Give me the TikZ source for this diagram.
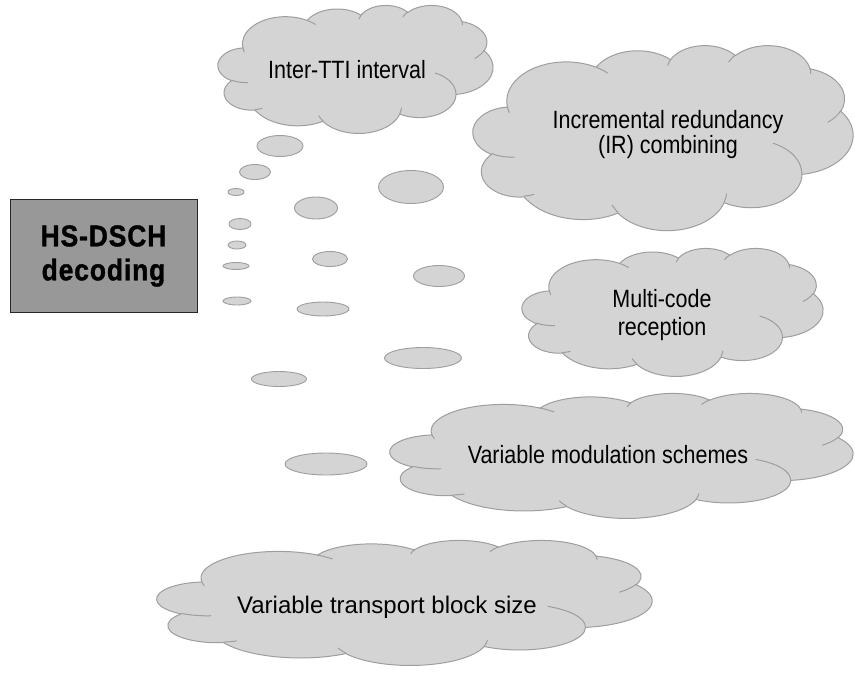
\documentclass[tikz,border=0pt]{standalone}
\usepackage{fontspec}
\setmainfont{Liberation Sans}
\newfontfamily\condfont[FakeStretch=0.86]{Liberation Sans}
\newfontfamily\headfont[FakeStretch=0.88,FakeBold=1.2,LetterSpace=3]{Liberation Sans Bold}
\usetikzlibrary{shapes.geometric}
\definecolor{cloudfill}{RGB}{212,212,212}
\definecolor{cloudline}{RGB}{158,158,158}
\definecolor{boxfill}{RGB}{152,152,152}
\tikzset{
  bubble/.style={ellipse, draw=cloudline, fill=cloudfill, line width=0.9pt, inner sep=0pt},
  thoughtfill/.style={draw=cloudline, fill=cloudfill, line width=1pt, line join=round},
  thoughtline/.style={draw=cloudline, line width=1pt, line cap=round},
  label/.style={inner sep=0pt, align=center, text=black},
  decoder/.style={draw=black!85, fill=boxfill, line width=1pt, inner sep=0pt,
    align=center, font={\headfont\fontsize{30}{34}\selectfont}}
}
% Cloud outline in a 432 x 432 box: arcs given as x radius/y radius/start/sweep,
% where the angles are measured to the point on the ellipse; they are turned
% into the parameter angles that the arc operation expects.
\newcommand\cloudarcs[1]{%
  \gdef\cloudarcpath{}%
  \foreach \cx/\cy/\w/\h/\s/\d in {#1}{%
    \pgfmathsetmacro\ta{atan2(\w*sin(\s),\h*cos(\s))}%
    \pgfmathsetmacro\tb{atan2(\w*sin(\s+\d),\h*cos(\s+\d))}%
    \pgfmathsetmacro\dd{\tb-\ta}%
    \pgfmathsetmacro\dd{\d>0 ? (\dd<0 ? \dd+360 : \dd) : (\dd>0 ? \dd-360 : \dd)}%
    \ifx\cx\empty
      \xdef\cloudarcpath{\cloudarcpath arc[start angle=\ta, delta angle=\dd, x radius=\w, y radius=\h]}%
    \else
      \xdef\cloudarcpath{\cloudarcpath (\cx,\cy) arc[start angle=\ta, delta angle=\dd, x radius=\w, y radius=\h]}%
    \fi
  }}
\cloudarcs{
  /  /67.53/91.90/-190.48748/123.78053,
  /  /53.33/72.67/-144.10238/89.94523,
  /  /43.65/59.45/-145.80792/99.72302,
  /  /48.57/65.95/-130.98607/117.24173,
  /  /53.33/72.73/-78.70888/109.02692,
  /  /67.75/92.20/-46.26725/130.269,
  /  /57.85/78.67/0.62502/114.03333,
  /  /67.52/92.15/22.4516/115.17255,
  /  /77.20/105.43/66.24263/75.71102,
  /  /43.60/59.18/-274.94208/146.73557,
  /  /43.45/59.45/-246.8285/152.51885}
\let\cloudoutline\cloudarcpath
\cloudarcs{
  46.93/261.77/43.45/59.45/86.742/26.4295,
  69.28/348.99/43.60/59.18/73.61047/11.44747,
  164.78/390.90/67.52/92.15/137.62415/14.0811,
  288.27/347.51/67.52/92.15/6.45327/15.99835,
  341.29/229.54/57.85/78.67/-70.29235/70.91737,
  417.98/153.54/53.33/72.73/30.31803/27.7515,
  383.24/54.26/48.57/65.95/-13.74433/14.8589,
  290.78/39.52/48.57/65.95/-149.18145/18.19537,
  221.41/47.20/43.65/59.45/-163.49427/17.84863,
  140.00/51.92/67.53/91.90/-66.70695/12.31935,
  41.27/157.89/67.53/91.90/157.65435/11.85817}
\let\cloudcreases\cloudarcpath
% \thoughtcloud{name}{left}{top}{width}{height}
\newcommand\thoughtcloud[5]{%
  \pgfmathsetmacro\cloudsx{#4/432}%
  \pgfmathsetmacro\cloudsy{#5/432}%
  \begin{scope}[shift={(#2,#3)}, x=\cloudsx pt, y=-\cloudsy pt]
    \coordinate (#1) at (216,216);
    \path[thoughtfill] (39,143.70) \cloudoutline -- cycle;
    \path[thoughtline] \cloudcreases;
  \end{scope}}
\begin{document}
\begin{tikzpicture}[x=1pt,y=-1pt]
\useasboundingbox (0,0) rectangle (855,673);

% the decoding block
\node[decoder, minimum width=187pt, minimum height=113pt] (dec) at (103.5,256) {HS-DSCH\\decoding};

% small bubbles rising from the block
\node[bubble, minimum width=46pt, minimum height=21pt] (b1)  at (280,146) {};
\node[bubble, minimum width=31pt, minimum height=15pt] (b2)  at (255,172) {};
\node[bubble, minimum width=16pt, minimum height=7pt]  (b3)  at (236,192) {};
\node[bubble, minimum width=22pt, minimum height=11pt] (b4)  at (240,224) {};
\node[bubble, minimum width=18pt, minimum height=8pt]  (b5)  at (237,245) {};
\node[bubble, minimum width=26pt, minimum height=7pt]  (b6)  at (236,266) {};
\node[bubble, minimum width=28pt, minimum height=8pt]  (b7)  at (237,301) {};
\node[bubble, minimum width=43pt, minimum height=22pt] (b8)  at (316,208) {};
\node[bubble, minimum width=65pt, minimum height=33pt] (b9)  at (411,187) {};
\node[bubble, minimum width=35pt, minimum height=15pt] (b10) at (330,259) {};
\node[bubble, minimum width=51pt, minimum height=21pt] (b11) at (439,276) {};
\node[bubble, minimum width=52pt, minimum height=14pt] (b12) at (323,309) {};
\node[bubble, minimum width=77pt, minimum height=21pt] (b13) at (423,358) {};
\node[bubble, minimum width=55pt, minimum height=15pt] (b14) at (279,379) {};
\node[bubble, minimum width=82pt, minimum height=22pt] (b15) at (326,464) {};

% the thought clouds
\thoughtcloud{c1}{218}{5}{275}{128}
\thoughtcloud{c2}{473}{45}{380}{185}
\thoughtcloud{c3}{522}{248}{301}{128}
\thoughtcloud{c4}{390}{393}{463}{125}
\thoughtcloud{c5}{157}{540}{495}{125}

% cloud texts (a multi-line node sits on the baseline of its last line)
\node[label, font={\condfont\fontsize{25}{25}\selectfont}, anchor=base] (t1) at (347,78) {Inter-TTI interval};
\node[label, font={\condfont\fontsize{25}{25}\selectfont}, anchor=base] (t2) at (668,153) {Incremental redundancy\\(IR) combining};
\node[label, font={\condfont\fontsize{25}{28}\selectfont}, anchor=base] (t3) at (662,335) {Multi-code\\reception};
\node[label, font={\condfont\fontsize{25}{25}\selectfont}, anchor=base] (t4) at (608,463) {Variable modulation schemes};
\node[label, font={\fontsize{24}{26}\selectfont}, anchor=base] (t5) at (387,613) {Variable transport block size};
\end{tikzpicture}
\end{document}
